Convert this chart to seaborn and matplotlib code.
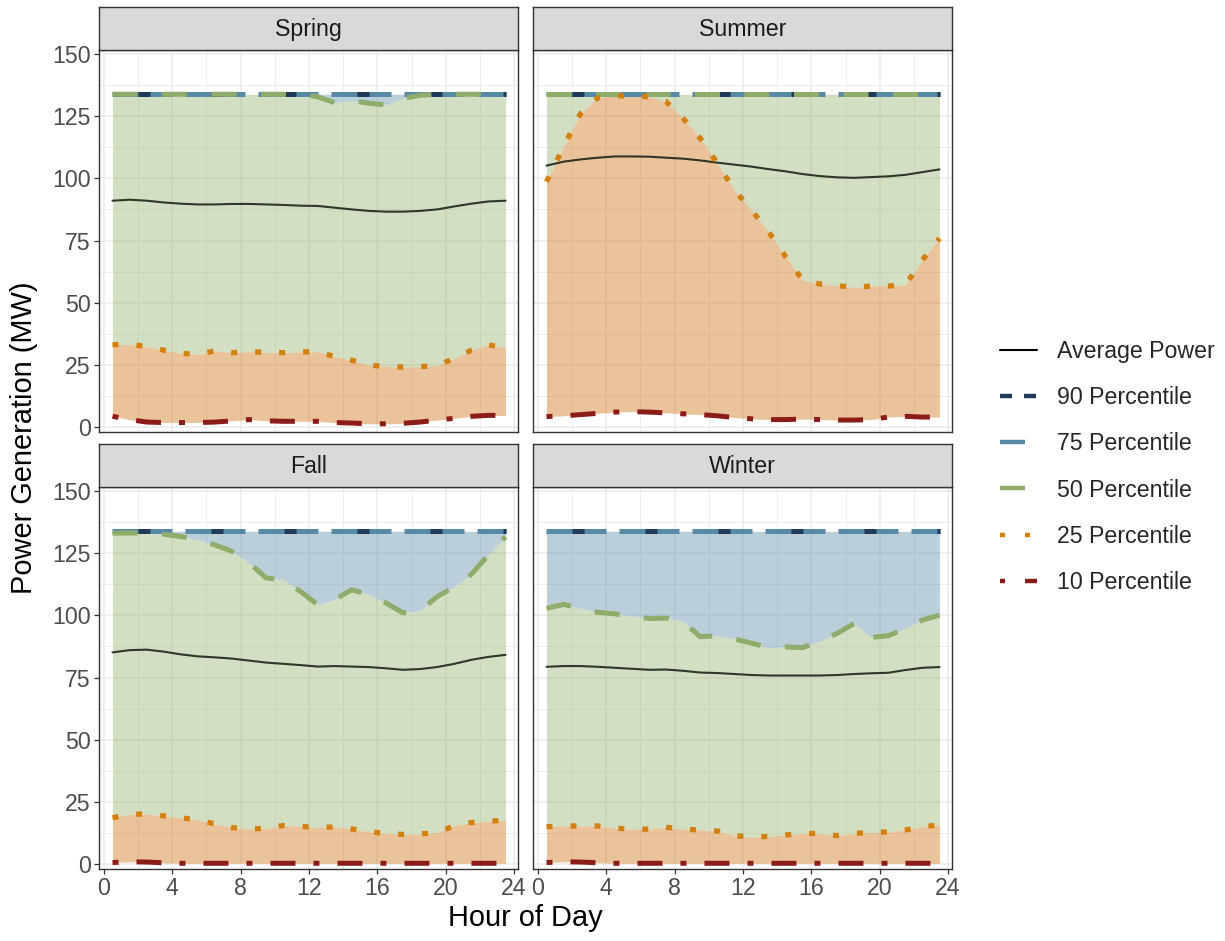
import matplotlib
matplotlib.use("Agg")
import matplotlib.pyplot as plt
from matplotlib.lines import Line2D
from matplotlib.ticker import MultipleLocator
import pandas as pd
import seaborn as sns

# ---------------------------------------------------------------- data
hours = [0.5, 1.5, 2.5, 3.5, 4.5, 5.5, 6.5, 7.5, 8.5, 9.5, 10.5, 11.5,
         12.5, 13.5, 14.5, 15.5, 16.5, 17.5, 18.5, 19.5, 20.5, 21.5, 22.5, 23.5]
seasons = ["Spring", "Summer", "Fall", "Winter"]
series_labels = ["Average Power", "90 Percentile", "75 Percentile",
                 "50 Percentile", "25 Percentile", "10 Percentile"]
x_ticks = [0, 4, 8, 12, 16, 20, 24]
y_ticks = [0, 25, 50, 75, 100, 125, 150]

spring_avg = [91.0, 91.4, 91.0, 90.3, 89.8, 89.5, 89.5, 89.7, 89.7, 89.5, 89.3, 89.0,
              88.9, 88.2, 87.5, 86.9, 86.6, 86.6, 86.9, 87.5, 88.7, 89.8, 90.7, 91.0]
spring_p90 = [133.8, 133.8, 133.8, 133.8, 133.8, 133.8, 133.8, 133.8, 133.8, 133.8, 133.8, 133.8,
              133.8, 133.8, 133.8, 133.8, 133.8, 133.8, 133.8, 133.8, 133.8, 133.8, 133.8, 133.8]
spring_p75 = [133.8, 133.8, 133.8, 133.8, 133.8, 133.8, 133.8, 133.8, 133.8, 133.8, 133.8, 133.8,
              133.8, 133.8, 133.8, 133.8, 133.8, 133.8, 133.8, 133.8, 133.8, 133.8, 133.8, 133.8]
spring_p50 = [133.8, 133.8, 133.8, 133.8, 133.8, 133.8, 133.8, 133.8, 133.8, 133.8, 133.8, 133.8,
              132.8, 130.4, 131.2, 130.2, 129.5, 132.1, 133.4, 133.8, 133.8, 133.8, 133.8, 133.8]
spring_p25 = [33.1, 33.3, 32.3, 30.9, 29.6, 29.2, 30.6, 29.9, 30.3, 30.0, 29.9, 30.2,
              30.3, 28.3, 26.9, 24.9, 24.3, 24.1, 24.3, 24.7, 27.6, 30.9, 33.0, 31.9]
spring_p10 = [4.3, 3.0, 2.0, 1.8, 1.8, 1.8, 2.0, 2.5, 3.0, 2.5, 2.3, 2.3,
              2.3, 1.8, 1.6, 1.3, 1.3, 1.5, 2.0, 2.8, 3.5, 4.3, 4.7, 4.6]

summer_avg = [105.1, 106.7, 107.6, 108.3, 108.8, 108.8, 108.7, 108.3, 107.9, 107.2, 106.3, 105.5,
              104.7, 103.7, 102.8, 101.7, 100.9, 100.4, 100.2, 100.5, 100.8, 101.4, 102.5, 103.6]
summer_p90 = [133.8, 133.8, 133.8, 133.8, 133.8, 133.8, 133.8, 133.8, 133.8, 133.8, 133.8, 133.8,
              133.8, 133.8, 133.8, 133.8, 133.8, 133.8, 133.8, 133.8, 133.8, 133.8, 133.8, 133.8]
summer_p75 = [133.8, 133.8, 133.8, 133.8, 133.8, 133.8, 133.8, 133.8, 133.8, 133.8, 133.8, 133.8,
              133.8, 133.8, 133.8, 133.8, 133.8, 133.8, 133.8, 133.8, 133.8, 133.8, 133.8, 133.8]
summer_p50 = [133.8, 133.8, 133.8, 133.8, 133.8, 133.8, 133.8, 133.8, 133.8, 133.8, 133.8, 133.8,
              133.8, 133.8, 133.8, 133.8, 133.8, 133.8, 133.8, 133.8, 133.8, 133.8, 133.8, 133.8]
summer_p25 = [98.6, 112.7, 126.1, 132.4, 133.2, 133.1, 132.8, 130.8, 124.1, 116.1, 106.0, 95.3,
              87.2, 78.5, 68.4, 59.0, 57.5, 56.9, 56.1, 56.7, 56.7, 57.1, 67.2, 75.9]
summer_p10 = [4.2, 4.5, 5.0, 5.5, 6.0, 6.2, 6.0, 5.7, 5.3, 5.0, 4.5, 3.8,
              3.3, 3.0, 3.0, 3.2, 3.0, 2.8, 2.8, 3.0, 4.0, 4.3, 4.0, 4.0]

fall_avg = [85.1, 86.0, 86.2, 85.4, 84.3, 83.5, 83.1, 82.6, 81.8, 81.0, 80.5, 80.0,
            79.4, 79.6, 79.4, 79.2, 78.7, 78.1, 78.4, 79.2, 80.5, 82.1, 83.3, 84.1]
fall_p90 = [133.8, 133.8, 133.8, 133.8, 133.8, 133.8, 133.8, 133.8, 133.8, 133.8, 133.8, 133.8,
            133.8, 133.8, 133.8, 133.8, 133.8, 133.8, 133.8, 133.8, 133.8, 133.8, 133.8, 133.8]
fall_p75 = [133.8, 133.8, 133.8, 133.8, 133.8, 133.8, 133.8, 133.8, 133.8, 133.8, 133.8, 133.8,
            133.8, 133.8, 133.8, 133.8, 133.8, 133.8, 133.8, 133.8, 133.8, 133.8, 133.8, 133.8]
fall_p50 = [133.0, 133.1, 133.0, 132.6, 131.7, 130.3, 128.3, 125.7, 121.0, 115.0, 114.3, 109.6,
            104.3, 106.3, 110.3, 108.3, 105.0, 101.0, 101.9, 107.5, 111.5, 116.5, 124.3, 131.6]
fall_p25 = [18.6, 20.0, 20.1, 19.4, 18.6, 17.7, 16.1, 14.6, 14.1, 14.3, 15.5, 15.1,
            14.7, 14.9, 14.1, 13.0, 12.3, 11.9, 12.1, 12.7, 15.4, 16.7, 17.2, 17.6]
fall_p10 = [0.6, 0.9, 0.8, 0.5, 0.3, 0.3, 0.3, 0.3, 0.3, 0.3, 0.3, 0.3,
            0.3, 0.3, 0.3, 0.3, 0.3, 0.3, 0.3, 0.3, 0.3, 0.3, 0.3, 0.3]

winter_avg = [79.3, 79.6, 79.6, 79.3, 78.9, 78.5, 78.1, 78.2, 77.7, 77.0, 76.8, 76.4,
              76.0, 75.8, 75.8, 75.8, 75.8, 76.0, 76.4, 76.7, 76.9, 78.0, 78.9, 79.2]
winter_p90 = [133.8, 133.8, 133.8, 133.8, 133.8, 133.8, 133.8, 133.8, 133.8, 133.8, 133.8, 133.8,
              133.8, 133.8, 133.8, 133.8, 133.8, 133.8, 133.8, 133.8, 133.8, 133.8, 133.8, 133.8]
winter_p75 = [133.8, 133.8, 133.8, 133.8, 133.8, 133.8, 133.8, 133.8, 133.8, 133.8, 133.8, 133.8,
              133.8, 133.8, 133.8, 133.8, 133.8, 133.8, 133.8, 133.8, 133.8, 133.8, 133.8, 133.8]
winter_p50 = [102.8, 104.4, 102.8, 101.2, 100.6, 99.7, 98.7, 98.9, 97.4, 91.4, 91.8, 90.5,
              88.8, 87.0, 87.3, 87.0, 89.7, 92.7, 96.7, 91.1, 91.8, 94.7, 98.1, 100.1]
winter_p25 = [15.0, 15.3, 15.3, 15.3, 14.4, 14.0, 14.0, 14.8, 14.0, 13.7, 13.3, 11.4,
              10.8, 11.1, 11.7, 12.3, 12.3, 11.4, 12.3, 12.7, 12.9, 13.7, 15.0, 15.7]
winter_p10 = [0.6, 0.9, 0.8, 0.5, 0.3, 0.3, 0.3, 0.3, 0.3, 0.3, 0.3, 0.3,
              0.3, 0.3, 0.3, 0.3, 0.3, 0.3, 0.3, 0.3, 0.3, 0.3, 0.3, 0.3]

season_series = {
    "Spring": [spring_avg, spring_p90, spring_p75, spring_p50, spring_p25, spring_p10],
    "Summer": [summer_avg, summer_p90, summer_p75, summer_p50, summer_p25, summer_p10],
    "Fall": [fall_avg, fall_p90, fall_p75, fall_p50, fall_p25, fall_p10],
    "Winter": [winter_avg, winter_p90, winter_p75, winter_p50, winter_p25, winter_p10],
}

rows = []
for season in seasons:
    for label, values in zip(series_labels, season_series[season]):
        for h, v in zip(hours, values):
            rows.append({"season": season, "series": label, "hour": h, "value": v})
df = pd.DataFrame(rows)

# ---------------------------------------------------------------- style
sns.set_theme(style="white")
plt.rcParams["font.family"] = ["Liberation Sans", "DejaVu Sans"]
plt.rcParams["lines.scale_dashes"] = False

PT = 0.72  # points per pixel at 100 dpi
line_colors = {
    "Average Power": "#1e2419",
    "90 Percentile": "#1f3b58",
    "75 Percentile": "#588aa8",
    "50 Percentile": "#8fac6a",
    "25 Percentile": "#d4800e",
    "10 Percentile": "#8c1c1a",
}
line_styles = {
    "Average Power": "solid",
    "90 Percentile": (47 * PT, (12 * PT, 61 * PT)),
    "75 Percentile": (0, (60 * PT, 13 * PT)),
    "50 Percentile": (0, (25 * PT, 24.5 * PT)),
    "25 Percentile": (0, (6 * PT, 18 * PT)),
    "10 Percentile": (0, (6 * PT, 18 * PT, 25 * PT, 18 * PT)),
}
line_widths = {
    "Average Power": 1.5,
    "90 Percentile": 3.6, "75 Percentile": 3.6, "50 Percentile": 3.6,
    "25 Percentile": 3.8, "10 Percentile": 3.6,
}
draw_order = ["75 Percentile", "90 Percentile", "50 Percentile",
              "Average Power", "25 Percentile", "10 Percentile"]

band_fill = {  # drawn with alpha 0.4
    "p90_p75": "#1f3b58",
    "p75_p50": "#5787a7",
    "p50_p25": "#93af6b",
    "p25_p10": "#cd6b03",
}

FS_SMALL = 16.7
FS_TITLE = 20.9
W, H = 1225, 941

fig = plt.figure(figsize=(W / 100, H / 100), dpi=100)
fig.patch.set_facecolor("white")

col_x = [99, 533]
panel_w = 419
row_top = [50, 487]
panel_h = 382
strip_h = 43

for i, season in enumerate(seasons):
    r, c = divmod(i, 2)
    x0 = col_x[c] / W
    y0 = (H - (row_top[r] + panel_h)) / H
    ax = fig.add_axes([x0, y0, panel_w / W, panel_h / H])
    ax.set_facecolor("white")
    ax.set_axisbelow(True)

    avg, p90, p75, p50, p25, p10 = season_series[season]
    ax.fill_between(hours, p75, p90, color=band_fill["p90_p75"], alpha=0.4, lw=0)
    ax.fill_between(hours, p50, p75, color=band_fill["p75_p50"], alpha=0.4, lw=0)
    ax.fill_between(hours, p25, p50, color=band_fill["p50_p25"], alpha=0.4, lw=0)
    ax.fill_between(hours, p10, p25, color=band_fill["p25_p10"], alpha=0.4, lw=0)

    sub = df[df["season"] == season]
    for label in draw_order:
        d = sub[sub["series"] == label]
        sns.lineplot(data=d, x="hour", y="value", ax=ax, color=line_colors[label],
                     lw=line_widths[label], legend=False, errorbar=None)
        ln = ax.lines[-1]
        ln.set_linestyle(line_styles[label])
        ln.set_dash_capstyle("butt")
        if label == "Average Power":
            ln.set_alpha(0.9)

    ax.set_xlim(-0.29, 24.23)
    ax.set_ylim(-2.0, 151.6)
    ax.set_xticks(x_ticks)
    ax.set_yticks(y_ticks)
    ax.xaxis.set_minor_locator(MultipleLocator(2))
    ax.yaxis.set_minor_locator(MultipleLocator(12.5))
    ax.grid(which="major", color="#ebebeb", lw=1.1)
    ax.grid(which="minor", color="#ebebeb", lw=0.6)
    ax.set_xlabel("")
    ax.set_ylabel("")
    for sp in ax.spines.values():
        sp.set_color("#333333")
        sp.set_linewidth(1.0)
    ax.tick_params(which="major", length=3.3, width=0.9, color="#333333",
                   labelcolor="#4d4d4d", labelsize=FS_SMALL, pad=2.5,
                   bottom=(r == 1), left=(c == 0),
                   labelbottom=(r == 1), labelleft=(c == 0))
    ax.tick_params(which="minor", length=0)

    # facet strip
    sy0 = (H - row_top[r]) / H
    sax = fig.add_axes([x0, sy0, panel_w / W, strip_h / H])
    sax.set_facecolor("#d9d9d9")
    sax.set_xticks([])
    sax.set_yticks([])
    for sp in sax.spines.values():
        sp.set_color("#333333")
        sp.set_linewidth(1.0)
    sax.text(0.5, 0.47, season, ha="center", va="center", fontsize=FS_SMALL,
             color="#1a1a1a", transform=sax.transAxes)

fig.text(24 / W, 1 - 438 / H, "Power Generation (MW)", rotation=90,
         ha="center", va="center", fontsize=FS_TITLE, color="black")
fig.text(525.5 / W, 1 - 918 / H, "Hour of Day", ha="center", va="center",
         fontsize=FS_TITLE, color="black")

legend_styles = {
    "Average Power": "solid",
    "90 Percentile": (0, (12 * PT, 12 * PT)),
    "75 Percentile": (0, (25 * PT, 40 * PT)),
    "50 Percentile": (0, (25 * PT, 40 * PT)),
    "25 Percentile": (0, (5 * PT, 20 * PT)),
    "10 Percentile": (0, (5 * PT, 20 * PT, 25 * PT, 10 * PT)),
}
handles = []
for label in series_labels:
    handles.append(Line2D([0], [0], color="black" if label == "Average Power" else line_colors[label],
                          lw=1.5 if label == "Average Power" else 3.2,
                          linestyle=legend_styles[label], dash_capstyle="butt"))
fig.legend(handles, series_labels, loc="center left",
           bbox_to_anchor=(1000 / W, 1 - 467 / H), frameon=False,
           fontsize=FS_SMALL, handlelength=1.6, handletextpad=0.86,
           labelspacing=1.0, borderpad=0, borderaxespad=0)

fig.savefig("out.png", dpi=100, facecolor="white")
